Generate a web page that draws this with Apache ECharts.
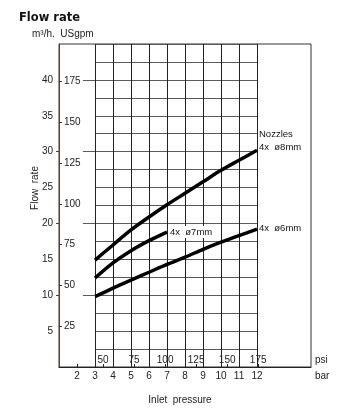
<!DOCTYPE html>
<html>
<head>
<meta charset="utf-8">
<script src="https://cdn.jsdelivr.net/npm/echarts@6/dist/echarts.min.js"></script>
<style>html,body{margin:0;padding:0;background:#fff}#c{width:350px;height:410px}</style>
</head>
<body>
<div id="c"></div>
<script>
// ---- data ----
const barTicks = [2, 3, 4, 5, 6, 7, 8, 9, 10, 11, 12];
const psiTicks = [50, 75, 100, 125, 150, 175];
const flowTicks = [5, 10, 15, 20, 25, 30, 35, 40];
const gpmTicks = [25, 50, 75, 100, 125, 150, 175];
const flowExtRefs = [10, 20, 30, 40];
const pressureBar = [3, 4, 5, 6, 7, 8, 9, 10, 11, 12];
const nozzle8 = [14.9, 17.0, 19.1, 20.9, 22.6, 24.2, 25.8, 27.4, 28.8, 30.2];
const pressureBar7 = [3, 4, 5, 6, 7];
const nozzle7 = [12.4, 14.5, 16.2, 17.6, 18.8];
const nozzle6 = [9.8, 11.0, 12.1, 13.2, 14.3, 15.3, 16.4, 17.4, 18.3, 19.2];

const PSI_PER_BAR = 14.5038;
const M3H_PER_GPM = 0.2271247;
const BAR_MIN = 1, BAR_MAX = 15, FLOW_MAX = 45;
const EXT_START = 2.33;

const FONT = 'Liberation Sans, Arial, sans-serif';
const chart = echarts.init(document.getElementById('c'));

const lineBase = {
  type: 'line', xAxisIndex: 0, yAxisIndex: 0, smooth: 0.3,
  symbol: 'none', showSymbol: false, clip: false, silent: true,
  lineStyle: { color: '#000', width: 3.5 }
};

const option = {
  animation: false,
  textStyle: { fontFamily: FONT },
  title: {
    text: 'Flow rate', left: 14, top: 7,
    textStyle: { fontFamily: 'DejaVu Sans', fontWeight: 'bold', fontSize: 11.5, color: '#111' }
  },
  graphic: [
    { type: 'text', left: 32, top: 29, style: { text: 'm³/h.  USgpm', fontSize: 10, fontFamily: FONT, fill: '#222' } },
    { type: 'text', x: 35, y: 188, rotation: Math.PI / 2,
      style: { text: 'Flow  rate', fontSize: 10, fontFamily: FONT, fill: '#222', align: 'center', verticalAlign: 'middle' } }
  ],
  grid: [
    { left: 59, top: 44, width: 252, height: 323, show: true, borderColor: '#333', borderWidth: 1, backgroundColor: 'transparent' },
    { left: 95, top: 44, width: 162, height: 323 }
  ],
  xAxis: [
    { gridIndex: 0, type: 'value', min: BAR_MIN, max: BAR_MAX, interval: 1,
      axisLine: { show: true, onZero: false, lineStyle: { color: '#222', width: 1 } },
      axisTick: { show: true, inside: true, length: 3, customValues: barTicks, lineStyle: { color: '#222' } },
      axisLabel: { customValues: barTicks, margin: 4, fontSize: 10, color: '#222' },
      splitLine: { show: false },
      name: 'bar', nameLocation: 'end', nameGap: 4,
      nameTextStyle: { fontSize: 10, color: '#222', verticalAlign: 'top', padding: [4, 0, 0, 0] } },
    { gridIndex: 0, type: 'value', position: 'bottom', min: BAR_MIN * PSI_PER_BAR, max: BAR_MAX * PSI_PER_BAR,
      axisLine: { show: false, onZero: false },
      axisTick: { show: true, inside: true, length: 3, customValues: psiTicks, lineStyle: { color: '#222' } },
      axisLabel: { inside: true, customValues: psiTicks, margin: 2, fontSize: 10, color: '#222' },
      splitLine: { show: false },
      name: 'psi', nameLocation: 'end', nameGap: 4,
      nameTextStyle: { fontSize: 10, color: '#222', verticalAlign: 'bottom', padding: [0, 0, 2, 0] } },
    { gridIndex: 1, type: 'value', min: 3, max: 12, interval: 1,
      axisLine: { show: false }, axisTick: { show: false }, axisLabel: { show: false },
      splitLine: { show: true, lineStyle: { color: '#222', width: 1 } },
      name: 'Inlet  pressure', nameLocation: 'middle', nameGap: 28,
      nameTextStyle: { fontSize: 10, color: '#222', padding: [0, 0, 0, 8] } }
  ],
  yAxis: [
    { gridIndex: 0, type: 'value', min: 0, max: FLOW_MAX, interval: 5,
      axisLine: { show: true, onZero: false, lineStyle: { color: '#5c4030', width: 1 } },
      axisTick: { show: true, length: 3, customValues: [10, 20, 30], lineStyle: { color: '#444' } },
      axisLabel: { customValues: flowTicks, margin: 6, fontSize: 10, color: '#222' },
      splitLine: { show: false } },
    { gridIndex: 0, type: 'value', position: 'left', min: 0, max: FLOW_MAX / M3H_PER_GPM,
      axisLine: { show: false, onZero: false },
      axisTick: { show: true, inside: true, length: 3, customValues: gpmTicks, lineStyle: { color: '#333' } },
      axisLabel: { inside: true, customValues: gpmTicks, margin: 5, fontSize: 10, color: '#222' },
      splitLine: { show: false } },
    { gridIndex: 1, type: 'value', min: 0, max: FLOW_MAX, interval: 2.5,
      axisLine: { show: false }, axisTick: { show: false }, axisLabel: { show: false },
      splitLine: { show: true, lineStyle: { color: '#5a5a5a', width: 1 } } }
  ],
  series: [
    Object.assign({}, lineBase, {
      name: '8mm',
      data: pressureBar.map((p, i) => [p, nozzle8[i]]),
      endLabel: { show: true, formatter: 'Nozzles\n4x  ø8mm', fontSize: 9.5, lineHeight: 13, color: '#111',
        align: 'left', verticalAlign: 'bottom', distance: 2, offset: [0, 4] },
      markLine: {
        silent: true, symbol: 'none', animation: false,
        lineStyle: { color: '#5a5a5a', width: 1, type: 'solid' }, label: { show: false },
        data: flowExtRefs.map(v => [{ coord: [EXT_START, v] }, { coord: [3, v] }])
      }
    }),
    Object.assign({}, lineBase, {
      name: '7mm',
      data: pressureBar7.map((p, i) => [p, nozzle7[i]]),
      endLabel: { show: true, formatter: '4x  ø7mm', fontSize: 9.5, color: '#111', backgroundColor: '#fff',
        padding: [1, 2], align: 'left', verticalAlign: 'middle', distance: 1 }
    }),
    Object.assign({}, lineBase, {
      name: '6mm',
      data: pressureBar.map((p, i) => [p, nozzle6[i]]),
      endLabel: { show: true, formatter: '4x  ø6mm', fontSize: 9.5, color: '#111',
        align: 'left', verticalAlign: 'middle', distance: 2, offset: [0, -1] }
    })
  ]
};
chart.setOption(option);
</script>
</body>
</html>
